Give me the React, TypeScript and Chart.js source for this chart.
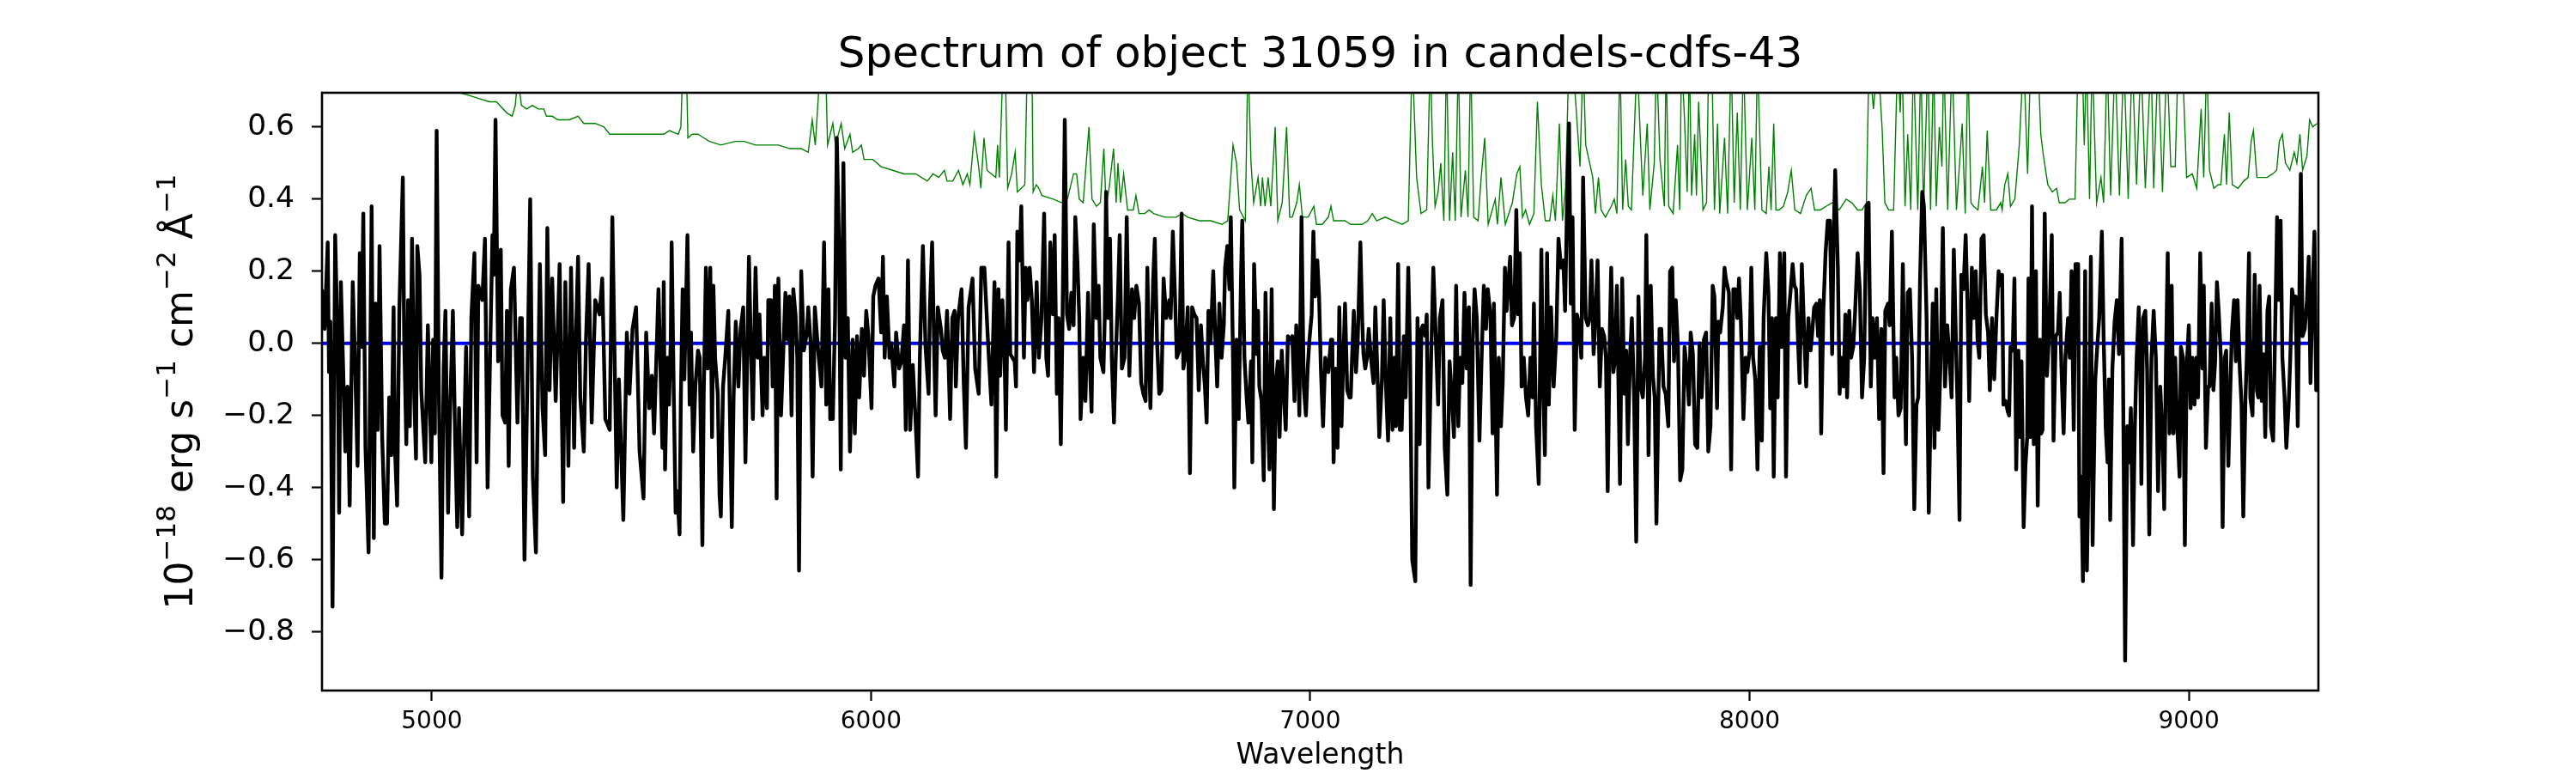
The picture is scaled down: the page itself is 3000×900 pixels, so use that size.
import React, { useEffect, useRef } from "react";
import { Chart, registerables } from "chart.js";

Chart.register(...registerables);

const TITLE = "Spectrum of object 31059 in candels-cdfs-43";
const X_LABEL = "Wavelength";
// y label pieces: [text, isSuperscript]
const Y_LABEL_PARTS: [string, boolean][] = [
  ["10", false], ["\u221218", true], [" erg s", false], ["\u22121", true],
  [" cm", false], ["\u22122", true], [" \u00C5", false], ["\u22121", true],
];
const X_TICKS = [5000, 6000, 7000, 8000, 9000];
const Y_TICKS = [-0.8, -0.6, -0.4, -0.2, 0, 0.2, 0.4, 0.6];
const X_MIN = 4750;
const X_MAX = 9295;
const Y_MIN = -0.963;
const Y_MAX = 0.695;

// ---- observed flux (black), [wavelength, flux] ----
const flux4750: [number, number][] = [[4750,.15],[4756,.04],[4763,.28],[4766,-.08],[4769,.06],[4774,-.73],[4780,.30],[4786,-.02],[4789,-.47],[4793,.17],[4799,-.11],[4803,-.30],[4808,-.12],[4813,-.45],[4820,.17],[4825,-.04],[4831,-.34],[4836,.25],[4840,-.01],[4844,.36],[4849,-.29],[4856,-.58],[4863,.38],[4868,-.54],[4872,.11],[4877,-.24],[4881,.27],[4887,-.26],[4893,-.50],[4898,-.50],[4903,-.15],[4908,-.31],[4913,.10],[4916,-.29],[4921,-.45],[4926,.09],[4934,.46],[4937,.02],[4942,-.28],[4946,.12],[4950,-.23],[4955,.29],[4960,-.15],[4964,-.32],[4967,.27],[4972,.19],[4976,-.13],[4985,-.33],[4991,.05],[4999,-.33],[5003,.01],[5007,-.25],[5011,.59],[5016,-.13],[5022,-.65],[5027,-.07],[5031,.09],[5037,-.47],[5041,-.22],[5048,.09],[5053,-.26],[5058,-.51],[5062,-.18],[5069,-.53],[5078,-.01],[5085,-.48],[5090,.07],[5097,.25],[5102,-.33],[5106,.16],[5115,.12],[5121,.29],[5127,-.40],[5132,-.08],[5138,.30],[5141,.19],[5145,.62],[5151,-.05],[5157,.26],[5161,-.20],[5167,-.22],[5171,.09],[5175,-.34],[5180,.15],[5187,.21],[5195,-.22],[5201,.07],[5205,.07],[5211,-.60],[5216,-.22],[5224,.40],[5230,-.37],[5237,-.58],[5242,-.11],[5246,.22],[5252,-.18],[5258,-.31],[5263,.32],[5268,-.13],[5274,.18],[5282,-.16],[5291,.22],[5299,-.44],[5304,.17],[5311,-.34],[5317,.21],[5324,-.29],[5328,.02],[5333,.24],[5338,-.15],[5346,-.30],[5351,.01],[5357,.22],[5364,-.22],[5372,.12],[5382,.08],[5388,.18],[5395,-.21],[5405,-.24],[5411,.35],[5421,-.40],[5426,-.10],[5436,-.49],[5444,.03],[5450,-.14],[5457,.04],[5465,.10],[5473,-.30],[5482,-.43],[5488,.03],[5495,-.18],[5501,-.09],[5506,-.25],[5516,.15]];
const flux5525: [number, number][] = [[5525,-.29],[5528,.17],[5531,-.35],[5536,-.04],[5540,-.17],[5544,.01],[5546,.28],[5551,-.15],[5555,-.47],[5559,-.41],[5564,-.53],[5567,-.15],[5571,.15],[5575,-.10],[5582,.30],[5587,-.17],[5590,.03],[5595,-.30],[5600,-.12],[5606,-.02],[5610,-.04],[5616,-.56],[5619,-.15],[5624,.21],[5628,-.07],[5634,.21],[5638,-.26],[5641,.16],[5645,-.04],[5651,-.14],[5655,-.42],[5658,-.48],[5663,-.12],[5668,-.04],[5675,.09],[5678,-.15],[5683,-.51],[5687,-.15],[5692,.06],[5698,-.12],[5703,.04],[5709,.10],[5714,-.33],[5718,-.04],[5722,.24],[5727,-.04],[5731,-.21],[5737,.21],[5742,-.04],[5746,.08],[5753,-.20],[5757,-.04],[5763,-.18],[5766,.12],[5772,.12],[5776,-.12],[5781,.16],[5785,-.43],[5789,.18],[5795,-.20],[5800,-.03],[5805,.14],[5810,.01],[5814,.13],[5819,-.20],[5823,.15],[5828,.08],[5832,-.04],[5836,-.63],[5841,.20],[5847,-.02],[5854,.03],[5857,.10],[5862,.01],[5867,-.37],[5872,.10],[5877,.02],[5881,-.04],[5887,-.12],[5893,.28],[5898,-.17],[5903,.15],[5907,-.21],[5913,-.21],[5918,.07],[5922,.57],[5927,.28],[5931,-.35],[5937,.50],[5942,-.04],[5947,.07],[5952,-.30],[5958,.01],[5963,-.25],[5968,.02],[5973,-.15],[5979,.04],[5984,-.09],[5989,.09],[5994,.02],[6001,-.18],[6005,.13],[6010,.16],[6017,.18],[6023,.03],[6027,.24],[6031,-.04],[6036,.13],[6042,-.04],[6046,0],[6053,-.12],[6057,.03],[6064,-.07],[6069,-.05],[6075,.05],[6079,-.24],[6084,.23],[6089,-.24],[6095,-.06],[6100,-.18],[6107,-.37],[6111,-.04],[6118,.27],[6124,-.01],[6131,-.14],[6134,.10],[6139,.28],[6144,-.04],[6147,-.20],[6152,.10],[6159,.04],[6163,-.02],[6168,-.04],[6173,.09],[6180,-.21],[6185,.07],[6190,.09],[6193,-.12],[6198,.07],[6206,.15],[6211,-.11],[6216,-.29],[6222,.10],[6231,.18],[6237,-.07],[6245,-.14],[6251,.21],[6258,.21],[6266,.01],[6274,-.17],[6281,.17]];
const flux6285: [number, number][] = [[6285,-.37],[6290,.15],[6294,-.09],[6299,.12],[6304,-.04],[6307,-.24],[6313,.28],[6317,-.03],[6322,-.04],[6327,-.05],[6330,-.12],[6333,.31],[6338,.23],[6342,.38],[6348,-.04],[6352,.21],[6356,.12],[6361,.21],[6366,.12],[6371,-.08],[6377,.17],[6382,-.04],[6388,.07],[6394,.36],[6399,-.04],[6403,-.09],[6408,.28],[6414,.08],[6418,.30],[6423,-.14],[6427,.07],[6432,-.28],[6436,.07],[6441,.62],[6446,.08],[6451,.04],[6456,.14],[6461,.05],[6465,.35],[6470,.22],[6474,.07],[6477,-.21],[6483,-.04],[6488,-.16],[6494,.14],[6497,-.02],[6502,-.19],[6507,.33],[6513,.07],[6518,.16],[6522,-.04],[6529,-.08],[6532,.07],[6535,.42],[6540,.07],[6544,.29],[6548,-.04],[6553,-.22],[6557,-.04],[6562,.13],[6566,.30],[6571,-.07],[6577,-.04],[6582,.35],[6588,-.09],[6594,.15],[6599,.07],[6604,.16],[6610,.11],[6615,-.11],[6620,-.14],[6625,-.16],[6629,.21],[6633,-.04],[6636,-.18],[6642,.17],[6646,.29],[6651,.01],[6656,-.14],[6661,-.13],[6666,.18],[6672,.07],[6679,.12],[6682,.07],[6687,.31],[6692,.13],[6696,-.04],[6702,-.02],[6707,.36],[6711,-.07],[6715,-.04],[6721,.10],[6726,-.36],[6731,.10],[6736,.08],[6741,.07],[6746,-.13],[6751,.05],[6755,-.04],[6760,-.12],[6764,-.22],[6768,.09],[6773,0],[6779,.20],[6783,.04],[6788,-.12],[6793,.11],[6798,-.04],[6803,.05],[6806,.21],[6811,.27],[6816,.15],[6819,.35],[6824,-.04],[6827,-.40],[6832,.01],[6837,-.21],[6842,.17],[6845,.34],[6850,-.04],[6855,-.15],[6859,-.22],[6865,-.05],[6868,-.33],[6872,.22],[6878,-.03],[6881,.09],[6884,-.12],[6889,-.16],[6894,-.38],[6898,.14],[6904,-.23],[6907,-.35],[6912,.15],[6917,-.46],[6922,-.10],[6926,-.05],[6930,-.26],[6935,-.02],[6940,-.15],[6944,-.24],[6949,.02],[6954,.01],[6959,.02],[6964,-.16],[6968,.05],[6972,-.04],[6975,-.20],[6980,.35],[6985,-.12],[6990,-.20],[6994,-.07],[6998,.01],[7003,.08],[7007,.31],[7011,.13],[7016,.23],[7020,.13],[7024,-.07],[7029,-.23],[7034,-.04],[7041,-.08],[7047,.01]];
const flux7050: [number, number][] = [[7050,.01],[7053,-.33],[7058,-.07],[7062,-.29],[7066,.10],[7071,-.23],[7074,-.09],[7079,.11],[7084,-.13],[7089,-.15],[7092,-.15],[7095,-.04],[7099,.09],[7104,-.08],[7108,.01],[7114,.28],[7118,.07],[7121,-.03],[7125,-.07],[7129,-.04],[7133,.04],[7138,-.04],[7144,-.11],[7148,.10],[7153,-.09],[7157,-.26],[7163,-.10],[7167,.12],[7172,-.11],[7177,-.27],[7182,.07],[7187,-.24],[7191,-.04],[7195,-.23],[7200,.22],[7204,-.24],[7208,-.24],[7213,.02],[7217,-.15],[7223,.21],[7227,-.02],[7232,-.60],[7239,-.66],[7244,.07],[7249,-.28],[7253,.04],[7256,.05],[7262,.02],[7265,.08],[7269,-.40],[7275,-.04],[7280,.21],[7285,.04],[7291,-.17],[7295,.07],[7301,.12],[7306,-.29],[7312,-.42],[7317,-.05],[7322,-.14],[7327,-.26],[7332,.16],[7337,-.23],[7341,-.04],[7346,-.11],[7351,.14],[7356,-.07],[7361,.10],[7365,-.67],[7370,.01],[7374,.15],[7379,.07],[7385,-.27],[7390,-.04],[7395,.16],[7400,.04],[7404,.15],[7410,.08],[7415,-.25],[7418,.11],[7425,-.42],[7429,-.04],[7434,-.23],[7438,-.11],[7443,.21],[7447,.09],[7451,.17],[7455,.24],[7459,.05],[7464,.07],[7469,.37],[7473,.08],[7477,.25],[7481,-.12],[7486,-.04],[7491,-.15],[7496,-.20],[7501,-.04],[7506,-.15],[7509,.11],[7514,-.23],[7520,-.39],[7526,.26],[7530,-.11],[7534,-.31],[7539,.25],[7543,-.17],[7548,.10],[7554,-.12],[7560,.02],[7565,.29],[7571,.21],[7576,.23],[7580,.09],[7584,.36],[7589,.61],[7593,.11],[7597,.35],[7602,-.24],[7607,.08],[7612,.05],[7617,-.04],[7621,.46],[7627,.07],[7632,.05],[7636,.07],[7640,.23],[7645,-.03],[7649,.07],[7654,.23],[7659,-.12],[7664,.04],[7669,.02],[7673,-.04],[7677,-.41],[7682,.04],[7685,.21],[7690,-.08],[7694,-.04],[7698,.16],[7705,-.39],[7710,.18],[7715,-.14],[7719,-.02],[7723,-.28],[7728,-.03],[7732,.07],[7737,-.14],[7742,-.55],[7747,.13],[7752,-.12],[7757,-.15],[7762,-.04],[7765,.30],[7770,-.31],[7775,.16],[7780,-.09],[7784,-.15],[7788,-.50],[7795,.04],[7799,.04],[7804,-.12],[7809,-.14]];
const flux7815: [number, number][] = [[7815,-.23],[7819,.20],[7824,.21],[7828,-.05],[7832,.12],[7837,-.01],[7842,-.38],[7847,-.35],[7852,-.01],[7857,-.07],[7862,-.17],[7866,.03],[7871,-.03],[7876,-.28],[7881,-.29],[7886,0],[7891,-.15],[7896,.01],[7901,.03],[7906,-.30],[7911,-.23],[7916,.16],[7920,.13],[7926,-.18],[7929,.06],[7933,.03],[7939,.10],[7943,.21],[7946,.18],[7953,.14],[7958,-.35],[7963,.15],[7967,.15],[7972,.07],[7976,.18],[7980,.07],[7986,-.21],[7991,-.04],[7995,-.08],[8000,-.02],[8004,.21],[8008,-.04],[8013,-.10],[8018,-.35],[8023,-.01],[8028,-.27],[8032,.07],[8038,.25],[8043,.14],[8047,-.18],[8051,.07],[8055,-.37],[8060,.07],[8064,-.15],[8069,.25],[8073,-.01],[8079,.25],[8083,-.37],[8088,.07],[8093,.14],[8098,.22],[8102,.16],[8106,.15],[8109,.05],[8114,-.11],[8119,.22],[8124,.04],[8129,-.12],[8134,.07],[8139,-.02],[8142,.02],[8147,.10],[8152,.11],[8156,.02],[8160,.12],[8163,-.25],[8168,.09],[8173,.25],[8178,.34],[8183,.34],[8188,-.03],[8191,.27],[8195,.48],[8201,.21],[8205,-.14],[8209,-.04],[8214,-.12],[8218,.08],[8222,-.15],[8227,.09],[8231,-.04],[8236,-.01],[8240,.08],[8246,.25],[8251,.15],[8256,-.15],[8261,-.04],[8266,.38],[8271,.39],[8276,-.12],[8280,.07],[8285,-.04],[8290,.07],[8295,-.21],[8300,.04],[8305,-.36],[8309,.09],[8315,.11],[8319,.05],[8324,.31],[8330,-.15],[8334,-.04],[8339,-.20],[8344,-.18],[8349,.22],[8352,-.04],[8356,-.28],[8360,.14],[8365,.15],[8370,-.04],[8375,-.46],[8380,-.17],[8384,-.15],[8388,.17],[8393,.42],[8397,.38],[8403,.07],[8408,-.47],[8412,-.20],[8417,.11],[8421,-.29],[8425,.15],[8430,-.24],[8435,-.05],[8440,.32],[8445,-.12],[8450,.05],[8455,-.04],[8460,-.15],[8465,.26],[8469,.05],[8473,-.15],[8478,-.49],[8482,.19],[8487,.15],[8492,.30],[8496,.11],[8500,-.16],[8506,.21],[8510,.07],[8515,.20],[8519,.01],[8523,-.04],[8528,.29],[8533,.30],[8538,.08],[8543,.03],[8547,-.13],[8552,.07],[8557,-.10],[8562,.07],[8567,.20],[8572,.16]];
const flux8575: [number, number][] = [[8575,.19],[8578,-.17],[8583,-.16],[8588,-.19],[8591,-.20],[8594,-.01],[8599,-.02],[8603,.18],[8607,-.35],[8612,-.02],[8615,-.26],[8619,-.05],[8624,-.51],[8628,-.34],[8632,-.26],[8635,.18],[8639,-.26],[8643,.38],[8647,-.28],[8652,.20],[8656,-.45],[8661,.01],[8664,-.25],[8667,-.24],[8672,.36],[8677,-.09],[8682,.03],[8688,.30],[8692,-.27],[8697,.02],[8702,.03],[8706,.14],[8710,-.07],[8715,-.25],[8719,-.04],[8725,.07],[8729,-.04],[8733,.20],[8738,-.24],[8742,.22],[8748,.22],[8751,-.48],[8755,-.37],[8759,-.66],[8764,.20],[8768,-.63],[8774,-.17],[8777,.24],[8781,-.56],[8787,-.10],[8791,-.02],[8796,.07],[8802,.31],[8806,.02],[8811,-.24],[8815,-.33],[8818,-.10],[8821,-.49],[8826,-.07],[8831,.06],[8836,.12],[8841,-.03],[8847,.29],[8850,-.04],[8855,-.88],[8860,-.23],[8864,-.33],[8868,-.18],[8873,-.56],[8877,-.24],[8881,-.05],[8886,.10],[8890,-.14],[8892,-.39],[8896,.07],[8901,.09],[8905,-.07],[8910,-.53],[8915,-.04],[8920,.09],[8925,-.04],[8930,-.41],[8935,-.12],[8940,-.26],[8944,-.46],[8948,-.04],[8952,.25],[8956,-.25],[8961,.16],[8965,-.25],[8969,-.04],[8974,-.24],[8979,-.37],[8982,-.01],[8987,-.04],[8991,-.56],[8995,-.07],[9000,.05],[9004,-.18],[9008,-.04],[9013,-.17],[9017,-.04],[9021,-.15],[9026,.25],[9031,-.07],[9034,.16],[9039,-.29],[9044,-.12],[9047,-.12],[9052,.11],[9056,-.13],[9060,-.05],[9064,.17],[9068,.09],[9073,-.04],[9077,-.51],[9082,-.04],[9085,-.02],[9090,-.34],[9094,-.15],[9098,.03],[9103,.12],[9107,-.05],[9111,.12],[9116,-.07],[9120,-.17],[9124,-.48],[9129,-.15],[9132,-.04],[9137,.25],[9140,-.15],[9145,-.20],[9150,.19],[9155,-.13],[9158,-.15],[9161,.16],[9166,-.16],[9170,-.03],[9174,-.26],[9179,.09],[9183,.13],[9187,-.23],[9192,-.27],[9197,.07],[9201,.35],[9205,.12],[9209,.34],[9213,-.04],[9218,-.15],[9222,-.29],[9227,-.18],[9231,-.04],[9235,.15],[9240,.11],[9243,.13],[9248,-.23],[9255,.47],[9259,.02],[9264,.04],[9269,.12],[9273,.24],[9277,-.11],[9282,.15],[9286,.31],[9290,-.13],[9294,-.13]];

// ---- noise / sky spectrum (green), [wavelength, value] ----
const sky4750: [number, number][] = [[4750,.86],[4900,.80],[5000,.74],[5043,.70],[5079,.69],[5105,.68],[5131,.67],[5147,.67],[5170,.64],[5183,.63],[5190,.66],[5196,.74],[5204,.66],[5216,.65],[5229,.66],[5242,.65],[5255,.65],[5261,.63],[5274,.63],[5287,.62],[5313,.62],[5333,.63],[5346,.61],[5372,.61],[5392,.60],[5405,.58],[5431,.58],[5457,.58],[5489,.58],[5522,.58]];
const sky5528: [number, number][] = [[5528,.58],[5541,.59],[5561,.58],[5567,.60],[5572,.80],[5579,.80],[5583,.57],[5593,.58],[5606,.58],[5619,.57],[5632,.56],[5658,.55],[5691,.56],[5711,.56],[5737,.55],[5763,.55],[5789,.55],[5815,.54],[5841,.54],[5857,.53],[5866,.62],[5873,.55],[5886,.80],[5896,.80],[5901,.55],[5913,.61],[5919,.55],[5932,.61],[5940,.54],[5952,.58],[5958,.53],[5971,.54],[5978,.55],[5984,.51],[6004,.51],[6023,.49],[6049,.48],[6075,.47],[6102,.47],[6128,.45],[6141,.47],[6154,.46],[6167,.48],[6173,.45],[6186,.45],[6199,.48],[6209,.44],[6219,.47],[6225,.44],[6235,.58],[6245,.49],[6250,.43],[6257,.57],[6264,.48],[6274,.47],[6284,.46]];
const sky6288: [number, number][] = [[6288,.55],[6292,.46],[6301,.80],[6305,.80],[6311,.43],[6320,.47],[6328,.53],[6333,.42],[6342,.43],[6350,.44],[6356,.80],[6366,.80],[6369,.42],[6376,.44],[6382,.43],[6389,.41],[6415,.40],[6434,.39],[6447,.40],[6461,.47],[6468,.47],[6474,.40],[6483,.39],[6496,.60],[6503,.40],[6513,.38],[6522,.39],[6530,.54],[6535,.38],[6542,.43],[6552,.54],[6558,.39],[6562,.50],[6568,.39],[6575,.47],[6584,.37],[6597,.37],[6603,.41],[6610,.36],[6623,.36],[6633,.37],[6643,.36],[6669,.35],[6695,.35],[6708,.36],[6721,.35],[6747,.34],[6773,.34],[6799,.33],[6812,.34],[6824,.55],[6832,.50],[6839,.37],[6852,.34],[6858,.80],[6865,.50],[6871,.39],[6881,.46],[6887,.38],[6891,.46],[6897,.38],[6904,.46],[6910,.38],[6920,.60],[6926,.34],[6936,.39],[6946,.60],[6953,.35],[6959,.35],[6969,.39],[6975,.44],[6982,.35],[6995,.35],[7008,.38],[7014,.33],[7027,.33],[7041,.35],[7047,.38]];
const sky7053: [number, number][] = [[7053,.34],[7066,.34],[7079,.34],[7092,.33],[7118,.33],[7131,.34],[7141,.36],[7151,.34],[7170,.35],[7190,.34],[7209,.33],[7223,.34],[7232,.80],[7242,.46],[7252,.36],[7265,.37],[7273,.80],[7278,.56],[7284,.38],[7291,.42],[7297,.50],[7304,.34],[7310,.80],[7317,.34],[7324,.53],[7330,.34],[7337,.80],[7343,.35],[7353,.48],[7359,.35],[7365,.80],[7372,.35],[7382,.34],[7389,.46],[7397,.57],[7405,.33],[7421,.40],[7426,.33],[7434,.46],[7444,.33],[7460,.39],[7470,.47],[7477,.49],[7483,.35],[7490,.37],[7499,.33],[7509,.36],[7517,.67],[7526,.44],[7535,.34],[7545,.34],[7552,.41],[7558,.34],[7567,.61],[7574,.34],[7581,.43],[7589,.80],[7597,.80],[7614,.49],[7621,.80],[7627,.55],[7636,.50],[7643,.46],[7649,.36],[7656,.46],[7662,.37],[7672,.35],[7685,.38],[7692,.40],[7698,.36],[7705,.80],[7711,.37],[7718,.51],[7724,.38],[7731,.37],[7744,.80],[7750,.61],[7757,.41],[7767,.61],[7773,.37],[7783,.50],[7788,.80],[7796,.51],[7806,.38]];
const sky7810: [number, number][] = [[7810,.80],[7816,.38],[7826,.36],[7836,.55],[7841,.37],[7845,.80],[7852,.62],[7858,.42],[7863,.80],[7868,.41],[7875,.58],[7879,.41],[7884,.67],[7894,.37],[7902,.39],[7907,.80],[7914,.80],[7920,.37],[7927,.61],[7932,.36],[7943,.57],[7950,.36],[7958,.80],[7965,.39],[7972,.64],[7979,.37],[7986,.80],[7995,.37],[8005,.57],[8012,.37],[8018,.80],[8028,.37],[8038,.36],[8044,.49],[8049,.37],[8055,.61],[8060,.37],[8067,.37],[8077,.38],[8087,.42],[8095,.48],[8103,.37],[8116,.36],[8129,.41],[8140,.43],[8148,.37],[8161,.37],[8174,.38],[8188,.39],[8204,.37],[8220,.40],[8233,.39],[8246,.37],[8256,.37],[8266,.39],[8272,.80],[8282,.65],[8292,.80],[8302,.59],[8308,.39],[8317,.37],[8328,.37],[8337,.80],[8343,.64],[8347,.80],[8354,.38],[8360,.58],[8367,.37],[8373,.80],[8383,.37],[8390,.80],[8396,.36],[8406,.80],[8412,.37],[8419,.80],[8425,.38],[8432,.60],[8438,.49],[8442,.80],[8451,.37],[8461,.80],[8471,.37],[8484,.61],[8491,.36],[8497,.80],[8504,.39],[8510,.38],[8520,.37],[8530,.49],[8535,.39],[8541,.59],[8549,.37],[8562,.37],[8572,.39]];
const sky8575: [number, number][] = [[8575,.37],[8581,.44],[8588,.47],[8594,.38],[8604,.40],[8614,.55],[8624,.80],[8633,.47],[8640,.80],[8656,.80],[8663,.58],[8669,.52],[8679,.44],[8689,.42],[8699,.43],[8705,.39],[8718,.39],[8728,.40],[8741,.40],[8748,.80],[8757,.80],[8762,.55],[8767,.80],[8774,.40],[8780,.80],[8790,.39],[8800,.46],[8806,.39],[8814,.80],[8822,.41],[8832,.80],[8842,.41],[8852,.80],[8862,.40],[8871,.80],[8881,.44],[8891,.80],[8901,.43],[8914,.80],[8920,.43],[8930,.80],[8940,.42],[8950,.80],[8959,.49],[8969,.49],[8976,.80],[8985,.80],[8995,.46],[9008,.47],[9018,.43],[9028,.65],[9034,.46],[9041,.80],[9047,.48],[9057,.43],[9067,.44],[9073,.44],[9081,.58],[9086,.44],[9092,.64],[9099,.44],[9112,.43],[9125,.45],[9135,.46],[9142,.56],[9147,.59],[9155,.46],[9178,.46],[9191,.47],[9200,.48],[9206,.56],[9213,.58],[9220,.50],[9230,.48],[9240,.53],[9246,.50],[9253,.58],[9259,.48],[9269,.52],[9275,.62],[9282,.60],[9292,.61]];

// ---- continuum model (blue) ----
const modelWave = [4750, 9275];
const modelValue = [0, 0];

const FONT = "DejaVu Sans";

const toPoints = (segs: [number, number][][]) =>
  segs.flat().map(([x, y]) => ({ x, y }));

const framePlugin = {
  id: "frame",
  afterDatasetsDraw(chart: any) {
    const { ctx, chartArea: a } = chart;
    ctx.save();
    ctx.strokeStyle = "#000";
    ctx.lineWidth = 2.6;
    ctx.strokeRect(a.left, a.top, a.right - a.left, a.bottom - a.top);
    ctx.restore();
  },
};

const yLabelPlugin = {
  id: "ylabel",
  afterDraw(chart: any) {
    const { ctx, chartArea: a } = chart;
    const main = 44;
    const sup = 31;
    const raise = 20;
    ctx.save();
    ctx.fillStyle = "#000";
    ctx.textBaseline = "alphabetic";
    ctx.textAlign = "left";
    let total = 0;
    const widths = Y_LABEL_PARTS.map(([t, s]) => {
      ctx.font = `${s ? sup : main}px "${FONT}"`;
      const w = ctx.measureText(t).width;
      total += w;
      return w;
    });
    ctx.translate(224, (a.top + a.bottom) / 2);
    ctx.rotate(-Math.PI / 2);
    let x = -total / 2;
    Y_LABEL_PARTS.forEach(([t, s], i) => {
      ctx.font = `${s ? sup : main}px "${FONT}"`;
      ctx.fillText(t, x, s ? -raise : 0);
      x += widths[i];
    });
    ctx.restore();
  },
};

export default function App() {
  const ref = useRef<HTMLCanvasElement | null>(null);
  useEffect(() => {
    if (!ref.current) return;
    const chart = new Chart(ref.current, {
      type: "line",
      data: {
        datasets: [
          {
            label: "flux",
            data: toPoints([flux4750, flux5525, flux6285, flux7050, flux7815, flux8575]),
            borderColor: "#000000",
            borderWidth: 4.4,
            borderJoinStyle: "round",
            pointRadius: 0,
            clip: 0,
          },
          {
            label: "sky",
            data: toPoints([sky4750, sky5528, sky6288, sky7053, sky7810, sky8575]),
            borderColor: "#008000",
            borderWidth: 1.4,
            pointRadius: 0,
            clip: 0,
          },
          {
            label: "model",
            data: modelWave.map((x, i) => ({ x, y: modelValue[i] })),
            borderColor: "#0000ff",
            borderWidth: 4.2,
            pointRadius: 0,
            clip: 0,
          },
        ],
      },
      options: {
        responsive: false,
        animation: false,
        devicePixelRatio: 1,
        parsing: false,
        layout: { padding: { left: 0, right: 300, top: 0, bottom: 0 } },
        plugins: {
          legend: { display: false },
          tooltip: { enabled: false },
          title: {
            display: true,
            text: TITLE,
            fullSize: false,
            color: "#000",
            font: { family: FONT, size: 50, weight: "normal" },
            padding: { top: 35, bottom: 13 },
          },
        },
        scales: {
          x: {
            type: "linear",
            min: X_MIN,
            max: X_MAX,
            afterBuildTicks: (s: any) => {
              s.ticks = X_TICKS.map((v) => ({ value: v }));
            },
            afterFit: (s: any) => {
              s.height = 96;
            },
            ticks: {
              color: "#000",
              font: { family: FONT, size: 28 },
              padding: 8,
              maxRotation: 0,
              autoSkip: false,
              callback: (v: any) => String(v),
            },
            grid: {
              display: true,
              drawOnChartArea: false,
              drawTicks: true,
              tickLength: 12,
              tickWidth: 2.2,
              tickColor: "#000",
            },
            border: { display: false },
            title: {
              display: true,
              text: X_LABEL,
              color: "#000",
              font: { family: FONT, size: 33 },
              padding: { top: 0, bottom: 0 },
            },
          },
          y: {
            type: "linear",
            min: Y_MIN,
            max: Y_MAX,
            afterBuildTicks: (s: any) => {
              s.ticks = Y_TICKS.map((v) => ({ value: v }));
            },
            afterFit: (s: any) => {
              s.width = 375;
            },
            ticks: {
              color: "#000",
              font: { family: FONT, size: 34.5 },
              padding: 20,
              autoSkip: false,
              callback: (v: any) => {
                const n = Number(v);
                return (n < -1e-9 ? "\u2212" : "") + Math.abs(n).toFixed(1);
              },
            },
            grid: {
              display: true,
              drawOnChartArea: false,
              drawTicks: true,
              tickLength: 12,
              tickWidth: 2.2,
              tickColor: "#000",
            },
            border: { display: false },
          },
        },
      },
      plugins: [framePlugin, yLabelPlugin],
    } as any);
    return () => chart.destroy();
  }, []);
  return (
    <div style={{ position: "fixed", left: 0, top: 0, width: 3000, height: 900, background: "#fff" }}>
      <canvas ref={ref} width={3000} height={900} style={{ width: 3000, height: 900, display: "block" }} />
    </div>
  );
}
